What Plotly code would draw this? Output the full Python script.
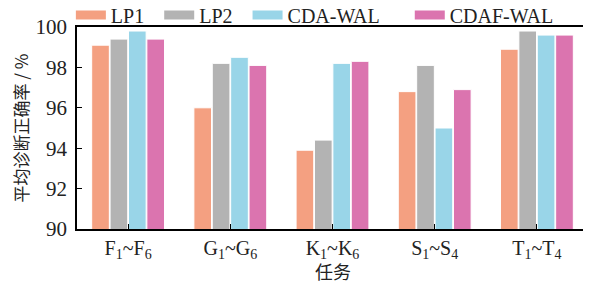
import plotly.graph_objects as go

categories = ["F<sub>1</sub>~F<sub>6</sub>", "G<sub>1</sub>~G<sub>6</sub>", "K<sub>1</sub>~K<sub>6</sub>",
              "S<sub>1</sub>~S<sub>4</sub>", "T<sub>1</sub>~T<sub>4</sub>"]
series_names = ["LP1", "LP2", "CDA-WAL", "CDAF-WAL"]
lp1 = [99.1, 96.0, 93.9, 96.8, 98.9]
lp2 = [99.4, 98.2, 94.4, 98.1, 99.8]
cda_wal = [99.8, 98.5, 98.2, 95.0, 99.6]
cdaf_wal = [99.4, 98.1, 98.3, 96.9, 99.6]
y_ticks = [90, 92, 94, 96, 98, 100]

colors = ["#F4A081", "#B3B3B3", "#99D5E8", "#DB74AF"]
values = [lp1, lp2, cda_wal, cdaf_wal]
legend_pad = [2, 2, 5, 0]  # non-breaking spaces after legend names for spacing

fig = go.Figure()
for name, vals, c in zip(series_names, values, colors):
    fig.add_trace(go.Bar(x=categories, y=vals, name=name, marker=dict(color=c, line=dict(color="white", width=1)),
                         showlegend=False))
for name, c, p in zip(series_names, colors, legend_pad):
    fig.add_trace(go.Scatter(x=[None], y=[None], mode="lines", name=name + "\u00a0" * p,
                             line=dict(color=c, width=9), showlegend=True))

font_serif = "Liberation Serif, Times New Roman, serif"
fig.update_layout(
    width=583, height=279,
    margin=dict(l=69, r=3, t=19, b=58, autoexpand=False),
    paper_bgcolor="white", plot_bgcolor="white",
    barmode="group", bargap=0.28, bargroupgap=0.04,
    font=dict(family=font_serif, size=19, color="#222"),
    legend=dict(orientation="h", x=-0.012, xanchor="left", y=1.059, yanchor="middle",
                font=dict(family=font_serif, size=20, color="#222"),
                itemwidth=30, tracegroupgap=0, bgcolor="rgba(0,0,0,0)"),
    xaxis=dict(showline=True, linecolor="black", linewidth=1.5, mirror=True,
               ticks="inside", ticklen=5, tickcolor="black", tickwidth=1.2,
               range=[-0.5, 4.5],
               tickfont=dict(family=font_serif, size=20, color="#222")),
    yaxis=dict(showline=True, linecolor="black", linewidth=1.5, mirror=True,
               ticks="inside", ticklen=5, tickcolor="black", tickwidth=1.2,
               range=[90, 100], tickvals=y_ticks, showgrid=False, zeroline=False,
               ticklabelstandoff=4,
               tickfont=dict(family=font_serif, size=21, color="#222"),
               title=dict(text="平均诊断正确率 / %", font=dict(family="Noto Sans CJK SC", size=17, color="#222"), standoff=15)),
    annotations=[dict(text="任务", xref="paper", yref="paper", x=0.5, y=-0.208,
                      xanchor="center", yanchor="middle", showarrow=False,
                      font=dict(family="Noto Sans CJK SC", size=18, color="#222"))],
)
fig.write_html("out.html")
